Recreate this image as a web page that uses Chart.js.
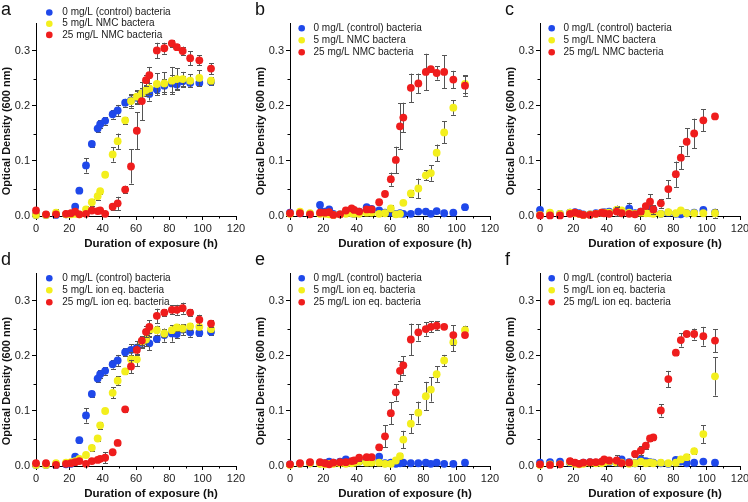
<!DOCTYPE html>
<html><head><meta charset="utf-8">
<script src="https://cdn.jsdelivr.net/npm/chart.js@4"></script>
<style>
html,body{margin:0;padding:0;background:#fff;overflow:hidden;width:748px;height:502px;}
.p{position:absolute;width:250px;height:250px;}
</style></head><body>
<div class="p" style="left:0;top:0"><canvas id="ca" width="250" height="250"></canvas></div>
<div class="p" style="left:254px;top:0"><canvas id="cb" width="250" height="250"></canvas></div>
<div class="p" style="left:504px;top:0"><canvas id="cc" width="250" height="250"></canvas></div>
<div class="p" style="left:0;top:250px"><canvas id="cd" width="250" height="250"></canvas></div>
<div class="p" style="left:254px;top:250px"><canvas id="ce" width="250" height="250"></canvas></div>
<div class="p" style="left:504px;top:250px"><canvas id="cf" width="250" height="250"></canvas></div>
<script>
// ---------- data ----------
const hours = [0, 6, 12, 18, 21, 23.5, 26, 30, 33.5, 37, 38.5, 41.5, 46, 49, 53.5, 57, 60.5, 63.5, 66, 68, 72.5, 77, 81.5, 84.5, 88, 92.5, 98, 105];
const xTicks = [0, 20, 40, 60, 80, 100, 120];
const yTicks = [0, 0.1, 0.2, 0.3];
const panelLetters = ['a', 'b', 'c', 'd', 'e', 'f'];
const labelsNMC = ['0 mg/L (control) bacteria', '5 mg/L NMC bactera', '25 mg/L NMC bacteria'];
const labelsIon = ['0 mg/L (control) bacteria', '5 mg/L ion eq. bacteria', '25 mg/L ion eq. bacteria'];
const xTitle = 'Duration of exposure (h)';
const yTitle = 'Optical Density (600 nm)';

// panel a
const aCtrl = [0.002,0.002,0.002,0.003,0.004,0.017,0.046,0.092,0.131,0.159,0.167,0.173,0.185,0.192,0.206,0.210,0.215,0.223,0.228,0.222,0.230,0.237,0.241,0.239,0.245,0.242,0.242,0.244];
const aCtrlErr = [0.001,0.001,0.001,0.002,0.002,0.003,0.003,0.013,0.005,0.006,0.007,0.007,0.008,0.010,0.007,0.010,0.012,0.010,0.010,0.012,0.006,0.012,0.015,0.008,0.010,0.008,0.006,0.005];
const a5 = [0.002,0.002,0.006,0.003,0.003,0.004,0.003,0.012,0.025,0.036,0.045,0.075,0.112,0.136,0.174,0.209,0.217,0.223,0.229,0.232,0.240,0.241,0.246,0.249,0.249,0.246,0.251,0.246];
const a5Err = [0.001,0.001,0.006,0.002,0.002,0.002,0.002,0.006,0.006,0.006,0.005,0.004,0.013,0.014,0.006,0.012,0.012,0.010,0.010,0.010,0.020,0.020,0.025,0.020,0.013,0.012,0.014,0.006];
const a25 = [0.010,0.003,0.003,0.004,0.005,0.008,0.003,0.004,0.010,0.009,0.010,0.004,0.017,0.023,0.048,0.090,0.155,0.209,0.247,0.256,0.301,0.305,0.314,0.307,0.300,0.287,0.283,0.268];
const a25Err = [0.003,0.002,0.003,0.002,0.002,0.003,0.002,0.002,0.003,0.004,0.004,0.003,0.006,0.012,0.007,0.031,0.034,0.035,0.010,0.015,0.014,0.010,0.006,0.006,0.008,0.013,0.009,0.010];

// panel b
const bCtrl = [0.006,0.005,0.004,0.020,0.008,0.012,0.004,0.003,0.006,0.005,0.004,0.008,0.016,0.013,0.010,0.006,0.006,0.004,0.005,0.004,0.004,0.008,0.008,0.004,0.009,0.005,0.006,0.016];
const bCtrlErr = [0.003,0.003,0.003,0.006,0.003,0.005,0.003,0.003,0.003,0.003,0.003,0.003,0.004,0.003,0.003,0.003,0.003,0.003,0.003,0.003,0.003,0.003,0.003,0.003,0.003,0.003,0.003,0.003];
const b5 = [0.004,0.008,0.005,0.004,0.004,0.003,0.002,0.003,0.004,0.005,0.004,0.004,0.006,0.006,0.004,0.005,0.014,0.003,0.004,0.024,0.041,0.050,0.074,0.078,0.115,0.152,0.197,0.240];
const b5Err = [0.003,0.003,0.004,0.003,0.003,0.003,0.002,0.002,0.003,0.003,0.003,0.003,0.004,0.004,0.003,0.003,0.006,0.003,0.004,0.004,0.006,0.018,0.009,0.014,0.015,0.020,0.013,0.016];
const b25 = [0.005,0.005,0.003,0.006,0.006,0.007,0.002,0.003,0.010,0.014,0.011,0.008,0.012,0.012,0.025,0.040,0.067,0.102,0.163,0.179,0.233,0.241,0.262,0.267,0.260,0.262,0.248,0.237];
const b25Err = [0.002,0.002,0.002,0.003,0.003,0.003,0.002,0.002,0.003,0.004,0.004,0.003,0.004,0.004,0.004,0.004,0.012,0.024,0.042,0.027,0.026,0.018,0.033,0.004,0.012,0.030,0.016,0.018];

// panel c
const cCtrl = [0.011,0.004,0.004,0.006,0.007,0.005,0.003,0.003,0.005,0.006,0.007,0.008,0.010,0.008,0.014,0.005,0.008,0.010,0.014,0.012,0.004,0.006,0.004,0.003,0.005,0.006,0.011,0.006];
const cCtrlErr = [0.003,0.003,0.003,0.003,0.003,0.003,0.003,0.003,0.003,0.003,0.003,0.003,0.004,0.003,0.010,0.003,0.004,0.004,0.004,0.004,0.003,0.003,0.003,0.003,0.003,0.003,0.003,0.003];
const c5 = [0.002,0.006,0.004,0.006,0.005,0.004,0.002,0.003,0.004,0.006,0.006,0.006,0.011,0.010,0.006,0.004,0.006,0.005,0.005,0.004,0.004,0.007,0.005,0.010,0.005,0.005,0.005,0.005];
const c5Err = [0.002,0.003,0.003,0.003,0.003,0.003,0.002,0.002,0.003,0.003,0.003,0.003,0.008,0.005,0.004,0.003,0.004,0.003,0.003,0.003,0.003,0.004,0.003,0.004,0.003,0.003,0.004,0.008];
const c25 = [0.001,0.001,0.001,0.004,0.006,0.004,0.002,0.002,0.004,0.006,0.005,0.004,0.008,0.005,0.004,0.003,0.008,0.018,0.026,0.012,0.023,0.049,0.076,0.106,0.135,0.150,0.174,0.181];
const c25Err = [0.002,0.002,0.002,0.002,0.003,0.003,0.002,0.002,0.003,0.003,0.003,0.003,0.008,0.004,0.004,0.003,0.004,0.004,0.014,0.008,0.008,0.016,0.023,0.021,0.025,0.027,0.020,0.003];

// panel d
const dCtrl = [0.002,0.002,0.002,0.003,0.004,0.017,0.047,0.092,0.131,0.159,0.167,0.173,0.185,0.192,0.207,0.211,0.215,0.224,0.228,0.223,0.231,0.238,0.241,0.240,0.248,0.243,0.242,0.244];
const dCtrlErr = [0.001,0.001,0.001,0.002,0.002,0.003,0.003,0.013,0.005,0.006,0.007,0.007,0.008,0.010,0.007,0.010,0.012,0.010,0.010,0.012,0.006,0.012,0.015,0.008,0.010,0.008,0.006,0.005];
const d5 = [0.002,0.002,0.005,0.006,0.007,0.009,0.013,0.020,0.033,0.050,0.074,0.100,0.133,0.155,0.172,0.194,0.194,0.226,0.230,0.246,0.247,0.241,0.247,0.252,0.250,0.254,0.253,0.249];
const d5Err = [0.002,0.002,0.003,0.003,0.003,0.003,0.003,0.004,0.006,0.004,0.006,0.004,0.010,0.008,0.004,0.013,0.013,0.010,0.012,0.010,0.008,0.006,0.006,0.006,0.006,0.006,0.006,0.006];
const d25 = [0.005,0.005,0.002,0.004,0.005,0.007,0.009,0.004,0.009,0.011,0.013,0.015,0.025,0.042,0.103,0.181,0.211,0.228,0.244,0.253,0.273,0.279,0.284,0.284,0.287,0.279,0.266,0.259];
const d25Err = [0.002,0.003,0.002,0.002,0.003,0.003,0.003,0.002,0.003,0.003,0.004,0.010,0.004,0.004,0.004,0.012,0.010,0.008,0.010,0.012,0.013,0.006,0.008,0.009,0.010,0.006,0.009,0.006];

// panel e
const eCtrl = [0.003,0.004,0.005,0.005,0.005,0.008,0.006,0.008,0.012,0.008,0.007,0.008,0.010,0.011,0.017,0.005,0.006,0.004,0.005,0.006,0.005,0.005,0.006,0.004,0.006,0.004,0.004,0.006];
const eCtrlErr = [0.002,0.003,0.003,0.003,0.003,0.003,0.003,0.003,0.004,0.003,0.003,0.003,0.003,0.003,0.004,0.003,0.003,0.003,0.003,0.003,0.003,0.003,0.003,0.003,0.003,0.003,0.003,0.003];
const e5 = [0.002,0.004,0.005,0.004,0.003,0.004,0.004,0.005,0.004,0.005,0.006,0.008,0.006,0.006,0.006,0.004,0.004,0.010,0.018,0.048,0.077,0.097,0.127,0.139,0.167,0.192,0.225,0.247];
const e5Err = [0.002,0.003,0.003,0.003,0.003,0.003,0.003,0.003,0.003,0.003,0.004,0.004,0.004,0.004,0.004,0.004,0.004,0.005,0.005,0.016,0.017,0.020,0.026,0.022,0.014,0.010,0.016,0.008];
const e25 = [0.003,0.005,0.007,0.007,0.005,0.003,0.006,0.007,0.007,0.009,0.010,0.015,0.016,0.016,0.034,0.054,0.096,0.134,0.173,0.183,0.230,0.243,0.249,0.253,0.255,0.253,0.238,0.238];
const e25Err = [0.002,0.002,0.003,0.003,0.003,0.002,0.003,0.003,0.003,0.004,0.004,0.005,0.004,0.004,0.005,0.020,0.020,0.015,0.018,0.017,0.029,0.015,0.012,0.010,0.008,0.004,0.018,0.003];

// panel f
const fCtrl = [0.006,0.007,0.008,0.006,0.005,0.004,0.006,0.007,0.006,0.007,0.008,0.007,0.008,0.012,0.007,0.005,0.012,0.009,0.007,0.006,0.005,0.004,0.011,0.008,0.005,0.006,0.008,0.006];
const fCtrlErr = [0.002,0.003,0.003,0.003,0.003,0.003,0.003,0.003,0.003,0.003,0.003,0.003,0.003,0.004,0.003,0.003,0.004,0.003,0.003,0.003,0.003,0.003,0.003,0.003,0.003,0.003,0.003,0.003];
const f5 = [0.002,0.003,0.003,0.007,0.004,0.003,0.004,0.006,0.005,0.005,0.007,0.008,0.006,0.006,0.004,0.005,0.008,0.005,0.006,0.005,0.006,0.005,0.006,0.012,0.016,0.027,0.058,0.163];
const f5Err = [0.002,0.003,0.003,0.006,0.003,0.003,0.003,0.003,0.003,0.003,0.003,0.004,0.004,0.004,0.003,0.003,0.004,0.003,0.003,0.003,0.003,0.003,0.003,0.005,0.005,0.006,0.016,0.035];
const f25 = [0.003,0.002,0.003,0.009,0.006,0.004,0.006,0.007,0.007,0.008,0.012,0.010,0.010,0.005,0.006,0.022,0.028,0.037,0.050,0.052,0.101,0.158,0.206,0.229,0.240,0.240,0.236,0.228];
const f25Err = [0.002,0.002,0.002,0.006,0.003,0.003,0.003,0.003,0.003,0.003,0.004,0.004,0.010,0.004,0.004,0.005,0.008,0.006,0.005,0.005,0.011,0.015,0.004,0.012,0.004,0.010,0.017,0.021];

// ---------- style ----------
const colBlue = '#1f48ea', colYellow = '#f3ef1d', colRed = '#ef1d1d';
const FONT = '"Liberation Sans", Arial, sans-serif';

const panelPlugin = {
  id: 'panelDeco',
  beforeDatasetDraw(chart, args) {
    const ds = chart.data.datasets[args.index];
    const ctx = chart.ctx, xs = chart.scales.x, ys = chart.scales.y;
    ctx.save();
    ctx.strokeStyle = '#555';
    ctx.lineWidth = 1;
    ds.data.forEach((p, i) => {
      const e = ds.errors[i];
      if (!e) return;
      const x = Math.round(xs.getPixelForValue(p.x)) + 0.5;
      const y1 = ys.getPixelForValue(p.y - e), y2 = ys.getPixelForValue(p.y + e);
      ctx.beginPath();
      ctx.moveTo(x, y1); ctx.lineTo(x, y2);
      ctx.moveTo(x - 2.5, Math.round(y1) + 0.5); ctx.lineTo(x + 2.5, Math.round(y1) + 0.5);
      ctx.moveTo(x - 2.5, Math.round(y2) + 0.5); ctx.lineTo(x + 2.5, Math.round(y2) + 0.5);
      ctx.stroke();
    });
    ctx.restore();
  },
  afterDraw(chart) {
    const o = chart.options.plugins.panelDeco;
    const ctx = chart.ctx, xs = chart.scales.x, ys = chart.scales.y, ca = chart.chartArea;
    ctx.save();
    // minor ticks
    ctx.strokeStyle = '#000'; ctx.lineWidth = 1;
    ctx.beginPath();
    [10, 30, 50, 70, 90, 110].forEach(v => {
      const x = Math.round(xs.getPixelForValue(v)) + 0.5;
      ctx.moveTo(x, ca.bottom); ctx.lineTo(x, ca.bottom + 2.5);
    });
    [0.05, 0.15, 0.25].forEach(v => {
      const y = Math.round(ys.getPixelForValue(v)) + 0.5;
      ctx.moveTo(ca.left, y); ctx.lineTo(ca.left - 2.5, y);
    });
    ctx.stroke();
    // axis titles
    ctx.fillStyle = '#111';
    ctx.font = 'bold 11.5px ' + FONT;
    ctx.textAlign = 'center'; ctx.textBaseline = 'middle';
    ctx.fillText(xTitle, ca.left + 115, 244);
    ctx.save();
    ctx.translate(7, 131); ctx.rotate(-Math.PI / 2);
    ctx.font = 'bold 11px ' + FONT;
    ctx.fillText(yTitle, 0, 0);
    ctx.restore();
    // panel letter
    ctx.font = '18px ' + FONT;
    ctx.textAlign = 'left'; ctx.textBaseline = 'alphabetic';
    ctx.fillText(o.letter, 1, 15);
    // legend
    ctx.font = '10px ' + FONT;
    ctx.textBaseline = 'middle';
    const legendOrder = [2, 1, 0];
    legendOrder.forEach((di, k) => {
      const ds = chart.data.datasets[di];
      const y = o.legY + k * o.legGap;
      ctx.fillStyle = ds.backgroundColor;
      ctx.beginPath(); ctx.arc(o.dotX, y, 3.3, 0, Math.PI * 2); ctx.fill();
      ctx.fillStyle = '#1a1a1a';
      ctx.fillText(ds.label, o.textX, y);
    });
    ctx.restore();
  }
};

function pts(arr) { return arr.map((v, i) => ({ x: hours[i], y: v })); }

function makePanel(id, letter, labels, ctrl, ctrlErr, s5, s5Err, s25, s25Err, leg) {
  const mk = (label, data, err, color, order) => ({
    label, data: pts(data), errors: err, backgroundColor: color, borderColor: color,
    borderWidth: 0, pointRadius: 3.9, pointHoverRadius: 3.9, showLine: false, clip: false, order
  });
  return new Chart(document.getElementById(id), {
    type: 'scatter',
    data: {
      datasets: [
        mk(labels[2], s25, s25Err, colRed, 1),
        mk(labels[1], s5, s5Err, colYellow, 2),
        mk(labels[0], ctrl, ctrlErr, colBlue, 3)
      ]
    },
    options: {
      responsive: false, animation: false, events: [],
      layout: { padding: { left: 0, top: 23.5, right: 14, bottom: 14 } },
      plugins: {
        legend: { display: false }, tooltip: { enabled: false },
        panelDeco: { letter, legY: leg.y, legGap: leg.gap, dotX: leg.dotX, textX: leg.textX }
      },
      scales: {
        x: {
          type: 'linear', min: 0, max: 120,
          afterBuildTicks: s => { s.ticks = xTicks.map(v => ({ value: v })); },
          afterFit: s => { s.height = 20; },
          grid: { display: true, drawOnChartArea: false, drawTicks: true, tickLength: 4, color: '#000', tickColor: '#000' },
          border: { display: true, color: '#000', width: 1 },
          ticks: { color: '#222', font: { family: FONT, size: 11 }, padding: 2, maxRotation: 0, autoSkip: false }
        },
        y: {
          type: 'linear', min: 0, max: 0.35,
          afterBuildTicks: s => { s.ticks = yTicks.map(v => ({ value: v })); },
          afterFit: s => { s.width = 36; },
          grid: { display: true, drawOnChartArea: false, drawTicks: true, tickLength: 4, color: '#000', tickColor: '#000' },
          border: { display: true, color: '#000', width: 1 },
          ticks: { color: '#222', font: { family: FONT, size: 11 }, padding: 2, callback: v => Number(v).toFixed(1), autoSkip: false }
        }
      }
    },
    plugins: [panelPlugin]
  });
}

const legA = { y: 12.5, gap: 11.2, dotX: 49.3, textX: 62.3 };
const legD = { y: 28.3, gap: 12, dotX: 49.3, textX: 62.3 };
const legR = { y: 28.3, gap: 12, dotX: 47.7, textX: 59.5 };

makePanel('ca', panelLetters[0], labelsNMC, aCtrl, aCtrlErr, a5, a5Err, a25, a25Err, legA);
makePanel('cb', panelLetters[1], labelsNMC, bCtrl, bCtrlErr, b5, b5Err, b25, b25Err, legR);
makePanel('cc', panelLetters[2], labelsNMC, cCtrl, cCtrlErr, c5, c5Err, c25, c25Err, legR);
makePanel('cd', panelLetters[3], labelsIon, dCtrl, dCtrlErr, d5, d5Err, d25, d25Err, legD);
makePanel('ce', panelLetters[4], labelsIon, eCtrl, eCtrlErr, e5, e5Err, e25, e25Err, legR);
makePanel('cf', panelLetters[5], labelsIon, fCtrl, fCtrlErr, f5, f5Err, f25, f25Err, legR);
</script>
</body></html>
